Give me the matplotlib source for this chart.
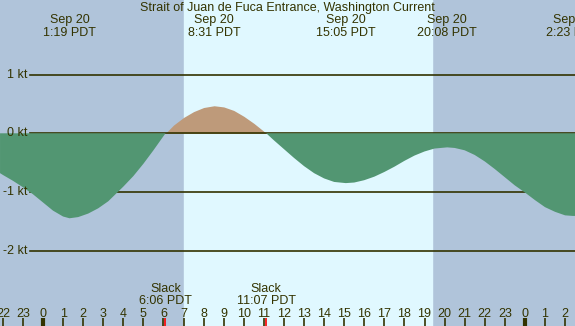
import matplotlib.pyplot as plt

# current speed (kt), hours from midnight Sep 20 (PDT)
hours = [-2.14, -2.0, -1.5, -1.0, -0.5, 0.0, 0.5, 1.0, 1.32, 1.75, 2.25, 2.75, 3.25, 3.64,
         4.0, 4.5, 5.0, 5.5, 6.1, 6.5, 7.0, 7.5, 8.0, 8.52, 9.0, 9.5, 10.0, 10.5, 11.12,
         11.5, 12.0, 12.5, 13.0, 13.5, 14.0, 14.5, 15.08, 15.5, 16.0, 16.5, 17.0, 17.5,
         18.0, 18.5, 19.0, 19.5, 20.13, 20.5, 21.0, 21.5, 22.0, 22.5, 23.0, 23.5, 24.0,
         24.5, 25.0, 25.5, 26.0, 26.38, 26.5]
speed = [-0.68, -0.71, -0.81, -0.92, -1.04, -1.18, -1.32, -1.42, -1.45, -1.43, -1.37, -1.28,
         -1.16, -1.03, -0.91, -0.73, -0.52, -0.29, 0.0, 0.14, 0.27, 0.37, 0.44, 0.47, 0.45,
         0.39, 0.29, 0.17, 0.0, -0.12, -0.27, -0.42, -0.56, -0.68, -0.77, -0.83, -0.85,
         -0.84, -0.80, -0.74, -0.66, -0.57, -0.47, -0.38, -0.31, -0.26, -0.24, -0.25, -0.29,
         -0.37, -0.48, -0.61, -0.75, -0.89, -1.01, -1.14, -1.26, -1.34, -1.40, -1.41, -1.41]

event_hours = [1.32, 8.52, 15.08, 20.13, 26.38]
event_dates = ['Sep 20', 'Sep 20', 'Sep 20', 'Sep 20', 'Sep 21']
event_times = ['1:19 PDT', '8:31 PDT', '15:05 PDT', '20:08 PDT', '2:23 PDT']

slack_hours = [6.1, 11.12]
slack_times = ['6:06 PDT', '11:07 PDT']

kt_levels = [1, 0, -1, -2]
tick_hours = list(range(-2, 27))
tick_labels = ['22', '23', '0', '1', '2', '3', '4', '5', '6', '7', '8', '9', '10', '11', '12',
               '13', '14', '15', '16', '17', '18', '19', '20', '21', '22', '23', '0', '1', '2']
midnights = [0, 24]
sunrise, sunset = 7.02, 19.37

night = '#b0c4da'
day = '#e0f8ff'
ebb = '#529672'
flood = '#be9a7a'
ink = '#333300'

plt.rcParams['font.family'] = ['Liberation Sans', 'DejaVu Sans']
fs = 9


def ypx(y):
    # pixel row from the top -> knots
    return (133.3 - y) / 58.6


fig = plt.figure(figsize=(5.75, 3.26), dpi=100)
ax = fig.add_axes([0, 0, 1, 1])
x0, x1 = -43 / 20.08, 532 / 20.08
ax.set_xlim(x0, x1)
ax.set_ylim(ypx(326), ypx(0))
ax.axis('off')

ax.axvspan(x0 - 1, x1 + 1, color=night, zorder=0)
ax.axvspan(sunrise, sunset, color=day, zorder=0)

ax.fill_between(hours, speed, 0, where=[s >= 0 for s in speed], interpolate=True,
                color=flood, lw=0, zorder=1)
for v in kt_levels:
    ax.axhline(v, xmin=30 / 575, xmax=1, color=ink, lw=1.2, zorder=2)
ax.fill_between(hours, speed, 0, where=[s <= 0 for s in speed], interpolate=True,
                color=ebb, lw=0, zorder=3)

for v in kt_levels:
    ax.text(-0.75, v, f'{v} kt', ha='right', va='center', fontsize=fs, color=ink, zorder=5)

ax.text(0.5, 1 - 11 / 326, 'Strait of Juan de Fuca Entrance, Washington Current',
        transform=ax.transAxes, ha='center', va='baseline', fontsize=fs, color=ink, zorder=5)

for h, d, t in zip(event_hours, event_dates, event_times):
    ax.text(h, ypx(23), d, ha='center', va='baseline', fontsize=fs, color=ink, zorder=5)
    ax.text(h, ypx(36), t, ha='center', va='baseline', fontsize=fs, color=ink, zorder=5)

for h, t in zip(slack_hours, slack_times):
    ax.text(h, ypx(291.5), 'Slack', ha='center', va='baseline', fontsize=fs, color=ink, zorder=5)
    ax.text(h, ypx(304), t, ha='center', va='baseline', fontsize=fs, color=ink, zorder=5)
    ax.vlines(h, ypx(326), ypx(318), color='red', lw=1.2, zorder=6)

for h, lab in zip(tick_hours, tick_labels):
    ax.text(h, ypx(317), lab, ha='center', va='baseline', fontsize=fs, color=ink, zorder=5)
    ax.vlines(h, ypx(326), ypx(318), color=ink, lw=3 if h in midnights else 1.2, zorder=5)

fig.savefig('out.png', dpi=100)
